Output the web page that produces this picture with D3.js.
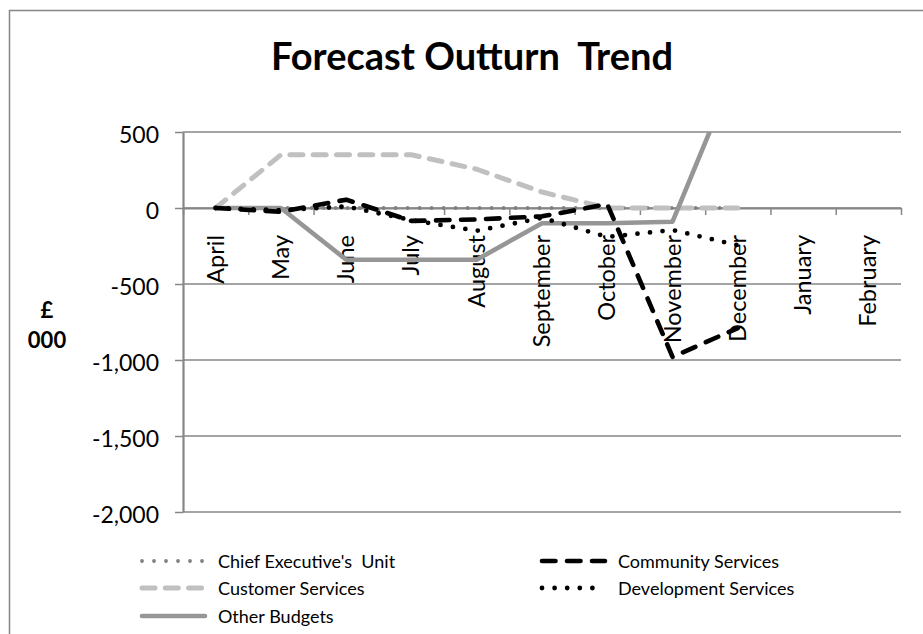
<!DOCTYPE html>
<html>
<head>
<meta charset="utf-8">
<script src="https://cdn.jsdelivr.net/npm/d3@7"></script>
<style>
  html, body { margin: 0; padding: 0; background: #fff; }
  svg { display: block; font-family: Lato, "Open Sans", sans-serif; }
</style>
</head>
<body>
<svg id="chart" width="923" height="634"></svg>
<script>
// ---- data ----
const months = ["April", "May", "June", "July", "August", "September", "October", "November", "December", "January", "February"];
const chiefExecutive = [0, 0, 0, 0, 0, 0, 0, 0, 0];
const communityServices = [0, -25, 55, -85, -75, -55, 25, -980, -790];
const customerServices = [0, 350, 350, 350, 255, 105, 0, 0, 0];
const developmentServices = [0, -15, 10, -80, -150, -65, -190, -145, -245];
const otherBudgets = [0, 0, -340, -340, -340, -100, -100, -90, 950];
const yTicks = [500, 0, -500, -1000, -1500, -2000];
const seriesNames = ["Chief Executive's  Unit", "Community Services", "Customer Services", "Development Services", "Other Budgets"];
const titleText = "Forecast Outturn  Trend";
const axisTitle = ["£", "000"];

// ---- styles ----
const styles = {
  "Chief Executive's  Unit": { color: "#808080", width: 3.8, dash: "0,12" },
  "Community Services": { color: "#000000", width: 4.6, dash: "13.5,11.5" },
  "Customer Services": { color: "#c0c0c0", width: 5, dash: "13,10.3" },
  "Development Services": { color: "#000000", width: 4.8, dash: "0,12.6" },
  "Other Budgets": { color: "#969696", width: 4.6, dash: null }
};
const seriesValues = [chiefExecutive, communityServices, customerServices, developmentServices, otherBudgets];
const drawOrder = [0, 2, 4, 1, 3];

const svg = d3.select("#chart");
const M = { left: 183, right: 901, top: 132, bottom: 512 };
const gridColor = "#868686";
const fmt = d3.formatLocale({ decimal: ".", thousands: ",", grouping: [3], currency: ["£", ""], minus: "-" }).format(",");

// outer chart border
svg.append("rect")
  .attr("x", 9.5).attr("y", 10.5)
  .attr("width", 1000).attr("height", 1000)
  .attr("fill", "none").attr("stroke", gridColor).attr("stroke-width", 1.5);

// title
svg.append("text")
  .attr("x", 472).attr("y", 70)
  .attr("text-anchor", "middle")
  .attr("font-size", 38).attr("font-weight", "bold")
  .style("white-space", "pre")
  .text(titleText);

// axis title
svg.selectAll("text.ytitle").data(axisTitle).join("text")
  .attr("class", "ytitle")
  .attr("x", 47).attr("y", (d, i) => 318 + i * 30)
  .attr("text-anchor", "middle")
  .attr("font-size", 22).attr("font-weight", "bold")
  .text(d => d);

// scales
const y = d3.scaleLinear().domain([-2000, 500]).range([M.bottom, M.top]);
const x = d3.scaleBand().domain(months).range([M.left, M.right]).padding(0);
const xc = d => x(d) + x.bandwidth() / 2;
const xEdges = d3.scaleLinear().domain([0, months.length]).range([M.left, M.right]);

// gridlines
svg.append("g").selectAll("line").data(yTicks).join("line")
  .attr("x1", M.left).attr("x2", M.right)
  .attr("y1", d => y(d)).attr("y2", d => y(d))
  .attr("stroke", gridColor).attr("stroke-width", 1.5);

// y axis
const yAxis = svg.append("g")
  .attr("transform", `translate(${M.left},0)`)
  .call(d3.axisLeft(y).tickValues(yTicks).tickFormat(fmt).tickSizeInner(8).tickSizeOuter(0).tickPadding(16));
yAxis.select(".domain").attr("stroke", gridColor).attr("stroke-width", 2.2);
yAxis.selectAll(".tick line").attr("stroke", gridColor).attr("stroke-width", 1.5);
yAxis.selectAll(".tick text")
  .attr("font-family", "Lato, sans-serif").attr("font-size", 23).attr("fill", "#000")
  .attr("dy", "0.45em");

// category labels
svg.append("g").selectAll("text").data(months).join("text")
  .attr("transform", d => `translate(${xc(d) + 8},235) rotate(-90)`)
  .attr("text-anchor", "end")
  .attr("font-size", 23.5).attr("fill", "#000")
  .text(d => d);

// x axis at zero
const xAxis = svg.append("g")
  .attr("transform", `translate(0,${y(0)})`)
  .call(d3.axisBottom(xEdges).tickValues(d3.range(months.length + 1)).tickFormat("").tickSizeInner(7).tickSizeOuter(0));
xAxis.select(".domain").attr("stroke", gridColor).attr("stroke-width", 2.2);
xAxis.selectAll(".tick line").attr("stroke", gridColor).attr("stroke-width", 1.5);

// clip
svg.append("clipPath").attr("id", "plotclip").append("rect")
  .attr("x", M.left).attr("y", M.top).attr("width", M.right - M.left).attr("height", M.bottom - M.top);

const line = d3.line().x((d, i) => xc(months[i])).y(d => y(d));
const linesG = svg.append("g").attr("clip-path", "url(#plotclip)");
drawOrder.forEach(k => {
  const s = styles[seriesNames[k]];
  linesG.append("path")
    .datum(seriesValues[k])
    .attr("d", line)
    .attr("fill", "none")
    .attr("stroke", s.color)
    .attr("stroke-width", s.width)
    .attr("stroke-linecap", "round")
    .attr("stroke-linejoin", "round")
    .attr("stroke-dasharray", s.dash);
});

// legend
const legendPos = [
  { x: 140, y: 561 }, { x: 540, y: 561 },
  { x: 140, y: 588 }, { x: 540, y: 588 },
  { x: 140, y: 616 }
];
const lg = svg.append("g").selectAll("g").data(seriesNames).join("g")
  .attr("transform", (d, i) => `translate(${legendPos[i].x},${legendPos[i].y})`);
lg.append("line")
  .attr("x1", 2).attr("x2", 65).attr("y1", 0).attr("y2", 0)
  .attr("stroke", d => styles[d].color)
  .attr("stroke-width", d => styles[d].width)
  .attr("stroke-linecap", "round")
  .attr("stroke-dasharray", d => styles[d].dash);
lg.append("text")
  .attr("x", 78).attr("y", 7)
  .attr("font-size", 18).attr("fill", "#000")
  .style("white-space", "pre")
  .text(d => d);
</script>
</body>
</html>
